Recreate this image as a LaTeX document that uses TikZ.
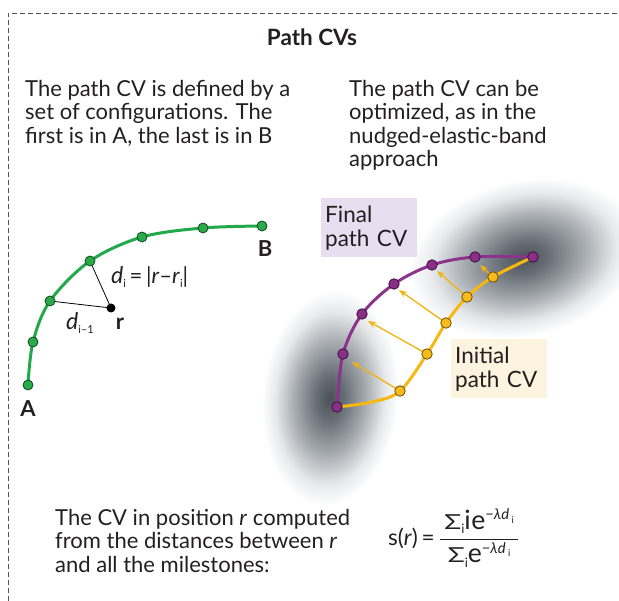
\documentclass[tikz,border=0pt]{standalone}
\usepackage{fontspec}
\setmainfont{Lato}
\usetikzlibrary{arrows.meta}
\definecolor{gline}{HTML}{22A94B}
\definecolor{gfill}{HTML}{2BAA4A}
\definecolor{gedge}{HTML}{0E4A1E}
\definecolor{pline}{HTML}{8C338C}
\definecolor{pfill}{HTML}{8A2F88}
\definecolor{pedge}{HTML}{3C103C}
\definecolor{yline}{HTML}{F6B912}
\definecolor{yfill}{HTML}{F7BC1C}
\definecolor{yedge}{HTML}{6B4E00}
\definecolor{yarrow}{HTML}{F2B30F}
\definecolor{pbox}{HTML}{E8DEF0}
\definecolor{cbox}{HTML}{FDF4DF}
\definecolor{frame}{HTML}{555555}
\definecolor{txtc}{HTML}{231F20}
\definecolor{blobA}{HTML}{4A5158}
\definecolor{blobB}{HTML}{656C73}
\definecolor{blobC}{HTML}{A6ABB0}
\definecolor{blobD}{HTML}{E6E8EA}
\pgfdeclareradialshading{blob}{\pgfpoint{0bp}{0bp}}{color(0bp)=(blobA); color(5bp)=(blobB); color(13bp)=(blobC); color(20bp)=(blobD); color(25bp)=(white); color(50bp)=(white)}
\newcommand{\bigsig}{\scalebox{1.35}[1]{\fontsize{17.5}{17.5}\selectfont Σ}}
\newcommand{\lo}[1]{\raisebox{-4pt}{\fontsize{11}{11}\selectfont #1}}
\newcommand{\hi}[1]{\raisebox{8pt}{\fontsize{12.5}{12.5}\selectfont #1}}
\newcommand{\tlo}[1]{\raisebox{-3pt}{\fontsize{8}{8}\selectfont #1}}
\tikzset{
  gdot/.style={circle, draw=gedge, fill=gfill, line width=0.8pt, minimum size=10pt, inner sep=0pt},
  pdot/.style={circle, draw=pedge, fill=pfill, line width=0.8pt, minimum size=10.5pt, inner sep=0pt},
  ydot/.style={circle, draw=yedge, fill=yfill, line width=0.8pt, minimum size=10.5pt, inner sep=0pt},
  txt/.style={inner sep=0pt, align=left, anchor=north west, text=txtc},
  mv/.style={draw=yarrow, line width=1.3pt, -{Stealth[length=8pt,width=6pt]}},
  lbl/.style={inner sep=0pt, text=txtc, font=\fontsize{22}{24}\selectfont\bfseries},
  tag/.style={inner sep=0pt, anchor=north west, minimum width=96pt, minimum height=59pt, text width=88pt, align=left, text=txtc, font=\fontsize{22.5}{24.5}\selectfont},
}
\begin{document}
\begin{tikzpicture}[x=1pt,y=-1pt, font=\fontsize{22}{23.5}\selectfont]
\useasboundingbox (0,0) rectangle (619,601);
% frame
\coordinate (fb) at (8,601);
\coordinate (fc) at (8,13);
\coordinate (fr) at (619,13);
\draw[frame, line width=0.9pt, dash pattern=on 5pt off 3pt] (fb) -- (fc) -- (fr);

\node[lbl, font=\fontsize{22.5}{24}\selectfont\bfseries] (title) at (312,37) {Path CVs};

\node[txt] (t1) at (25,80) {The path CV is defined by a\\set of configurations. The\\first is in A, the last is in B};
\node[txt] (t2) at (349,80) {The path CV can be\\optimized, as in the\\nudged-elastic-band\\approach};
\node[txt] (t3) at (55,509) {The CV in position \textit{r} computed\\from the distances between \textit{r}\\and all the milestones:};

% formula
\node[inner sep=0pt, anchor=west, text=txtc, font=\fontsize{22.5}{24}\selectfont] (frm) at (388,538)
 {s(\textit{r})\,=\,\raisebox{-0.5pt}{\scalebox{1.18}{$\displaystyle\frac{\mbox{\,\bigsig\lo{i}i\hspace{0.5pt}e\hi{−\textit{λd}\,\tlo{i}}\,}}{\mbox{\bigsig\lo{i}e\hi{−\textit{λd}\,\tlo{i}}}}$}}};

% ---------- left panel ----------
\coordinate (g1) at (28,385);
\coordinate (g2) at (33,342);
\coordinate (g3) at (50,301);
\coordinate (g4) at (90,261);
\coordinate (g5) at (142,237);
\coordinate (g6) at (203,228);
\coordinate (g7) at (262,226);
\draw[gline, line width=3pt] plot[smooth, tension=0.55] coordinates {(g1) (g2) (g3) (g4) (g5) (g6) (g7)};
\node[circle, fill=black, minimum size=9pt, inner sep=0pt] (r) at (111,308) {};
\draw[black, line width=0.8pt] (r.center) -- (g3);
\draw[black, line width=0.8pt] (r.center) -- (g4);
\foreach \i in {1,...,7} \node[gdot] (G\i) at (g\i) {};
\node[lbl] (A) at (28,409) {A};
\node[lbl] (B) at (265,249) {B};
\node[lbl] (rl) at (120,324) {r};
\node[inner sep=0pt, text=txtc, anchor=base west] (di) at (111,284) {{\fontsize{23}{23}\selectfont\textit{d}}\lo{i}\,=\,|\textit{r}–\textit{r}\lo{i}|};
\node[inner sep=0pt, text=txtc, anchor=base west] (dim) at (66,330) {{\fontsize{23}{23}\selectfont\textit{d}}\lo{i–1}};

% ---------- right panel ----------
\begin{scope}[transform canvas={rotate around={-5:(330,398)}}]
\shade[shading=blob] (330,398) ellipse [x radius=68, y radius=108];
\end{scope}
\begin{scope}[transform canvas={rotate around={13:(524,258)}}]
\shade[shading=blob] (524,258) ellipse [x radius=116, y radius=78];
\end{scope}

\node[tag, fill=pbox] (fin) at (321,198) {\strut Final\\path CV};
\node[tag, fill=cbox] (ini) at (451,339) {\strut Initial\\path CV};

\coordinate (p1) at (337,407);
\coordinate (p2) at (343,354);
\coordinate (p3) at (362,314);
\coordinate (p4) at (394,284);
\coordinate (p5) at (432,265);
\coordinate (p6) at (475,257);
\coordinate (p7) at (533,257);
\coordinate (y1) at (400,391);
\coordinate (y2) at (427,354);
\coordinate (y3) at (446,323);
\coordinate (y4) at (467,297);
\coordinate (y5) at (493,277);
\draw[yline, line width=3pt] plot[smooth, tension=0.55] coordinates {(p1) (372,402) (y1) (y2) (y3) (y4) (y5) (p7)};
\draw[pline, line width=3pt] plot[smooth, tension=0.55] coordinates {(p1) (p2) (p3) (p4) (p5) (p6) (p7)};

\coordinate (a1) at (352,362);
\coordinate (a2) at (368,321);
\coordinate (a3) at (399,290);
\coordinate (a4) at (437,271);
\coordinate (a5) at (480,265);
\foreach \i in {1,...,5} \draw[mv] (y\i) -- (a\i);
\foreach \i in {1,...,7} \node[pdot] (P\i) at (p\i) {};
\foreach \i in {1,...,5} \node[ydot] (Y\i) at (y\i) {};
\end{tikzpicture}
\end{document}
